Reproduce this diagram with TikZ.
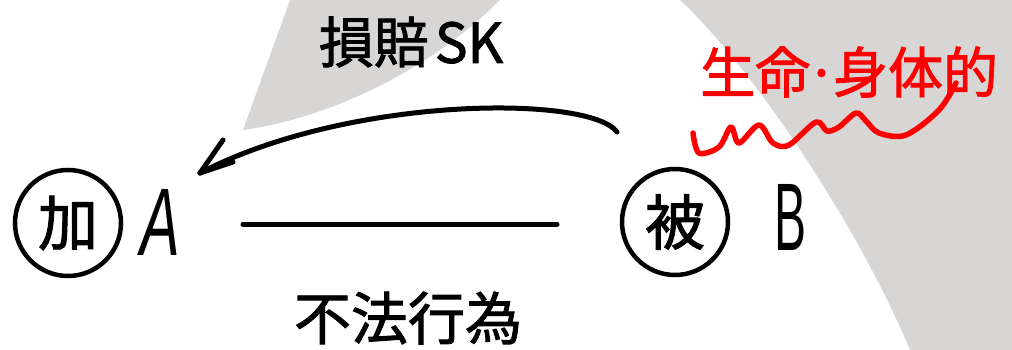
\documentclass[tikz,border=0pt]{standalone}
\usepackage{fontspec}
\newfontfamily\jp[FakeBold=1.6]{Noto Sans CJK JP}
\setsansfont{Liberation Sans}
\begin{document}
\begin{tikzpicture}[x=1pt,y=-1pt,
  ink/.style={line width=5pt, line cap=round, line join=round},
  bgshade/.style={fill={rgb,255:red,216;green,213;blue,213}},
  ring/.style={draw, circle, line width=4.5pt, minimum size=106pt, inner sep=0pt, font=\jp\fontsize{60pt}{60pt}\selectfont},
  bigjp/.style={font=\jp\fontsize{57pt}{57pt}\selectfont, inner sep=0pt},
  letter/.style={font=\sffamily\fontsize{96pt}{96pt}\selectfont, inner sep=0pt},
  redtext/.style={text=red, font=\jp\fontsize{55pt}{55pt}\selectfont, inner sep=0pt}]
\useasboundingbox (0,0) rectangle (1012,350);
% background shading
\fill[bgshade] (290,0) -- (243,130) .. controls (330,118) and (430,70) .. (500,0) -- cycle;
\fill[bgshade] (680,0) .. controls (755,70) and (860,230) .. (910,350) -- (1012,350) -- (1012,0) -- cycle;
% parties
\node[ring] (ka) at (68,223) {加};
\node[letter] (A) at (160,222) {\scalebox{0.62}[1]{\itshape A}};
\node[ring] (hi) at (675,222) {被};
\node[letter] (B) at (790,217) {\scalebox{0.5}[1]{B}};
% relation line
\coordinate (l1) at (243,224);
\coordinate (l2) at (557,224);
\draw[ink] (l1) -- (l2);
\node[bigjp] (tort) at (408,318) {不法行為};
% damages claim arrow
\coordinate (as) at (617,132);
\coordinate (tip) at (200,173);
\draw[ink] (as) .. controls (590,95) and (350,95) .. (tip);
\draw[ink] (tip) -- ++(23,-33);
\draw[ink] (tip) -- ++(33,-11);
\node[bigjp, font=\jp\fontsize{55pt}{55pt}\selectfont] (claim) at (411,42) {損賠\hspace{6pt}SK};
% red note
\node[redtext, anchor=west] (note) at (700,72) {生命{\kern-4pt}·{\kern-4pt}身体的};
\draw[ink, red, line width=5.5pt] plot[smooth, tension=0.55] coordinates {(693,133) (699,153) (719,147) (731,127) (739,143) (759,125) (773,143) (789,145) (816,122) (827,131) (839,127) (856,113) (866,121) (879,133) (906,135) (939,110) (956,83)};
\end{tikzpicture}
\end{document}
